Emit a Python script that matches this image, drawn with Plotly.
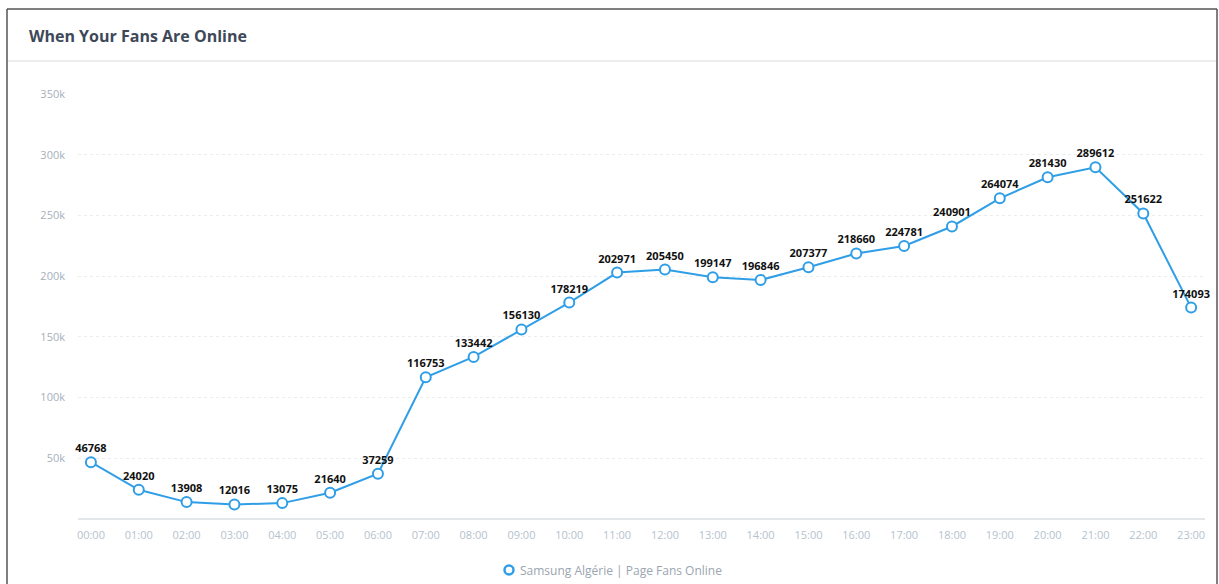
import plotly.graph_objects as go

hours = ["00:00","01:00","02:00","03:00","04:00","05:00","06:00","07:00","08:00","09:00","10:00","11:00",
         "12:00","13:00","14:00","15:00","16:00","17:00","18:00","19:00","20:00","21:00","22:00","23:00"]
fans = [46768, 24020, 13908, 12016, 13075, 21640, 37259, 116753, 133442, 156130, 178219, 202971,
        205450, 199147, 196846, 207377, 218660, 224781, 240901, 264074, 281430, 289612, 251622, 174093]
y_ticks = [50000, 100000, 150000, 200000, 250000, 300000, 350000]
y_tick_labels = ["50k", "100k", "150k", "200k", "250k", "300k", "350k"]
series_name = "Samsung Algérie | Page Fans Online"
title = "When Your Fans Are Online"

W, H = 1219, 584
ML, MR, MT, MB = 78, 14, 94, 65
PW = W - ML - MR
PH = H - MT - MB

def px_x(p):
    return (p - ML) / PW

def px_y(q):
    return (H - MB - q) / PH

xs = list(range(len(hours)))
BLUE = "#2f9ee6"

fig = go.Figure()
fig.add_trace(go.Scatter(
    x=xs, y=fans, mode="lines+markers+text", name=series_name, showlegend=False,
    text=[str(v) for v in fans], textposition="top center",
    textfont=dict(family="Open Sans", size=11, color="#111111", weight="bold"),
    line=dict(color=BLUE, width=2),
    marker=dict(symbol="circle", size=10, color="white", line=dict(color=BLUE, width=2)),
    cliponaxis=False,
))

shapes = [
    dict(type="line", xref="paper", yref="paper", x0=px_x(7), x1=px_x(1217), y0=px_y(9), y1=px_y(9),
         line=dict(color="#555555", width=1.5)),
    dict(type="line", xref="paper", yref="paper", x0=px_x(7), x1=px_x(7), y0=px_y(9), y1=px_y(590),
         line=dict(color="#555555", width=1.5)),
    dict(type="line", xref="paper", yref="paper", x0=px_x(1217), x1=px_x(1217), y0=px_y(9), y1=px_y(590),
         line=dict(color="#555555", width=1.5)),
    dict(type="line", xref="paper", yref="paper", x0=px_x(8), x1=px_x(1216), y0=px_y(61), y1=px_y(61),
         line=dict(color="#ececec", width=2)),
    # legend symbol
    dict(type="circle", xref="paper", yref="paper", x0=px_x(504.5), x1=px_x(513.5),
         y0=px_y(574.5), y1=px_y(565.5), fillcolor="white", line=dict(color=BLUE, width=2.5)),
]

fig.update_layout(
    width=W, height=H,
    margin=dict(l=ML, r=MR, t=MT, b=MB, autoexpand=False),
    paper_bgcolor="white", plot_bgcolor="white",
    font=dict(family="Open Sans", color="#aab5c0"),
    shapes=shapes,
    annotations=[
        dict(text=title, xref="paper", yref="paper", x=px_x(27), y=px_y(36),
             xanchor="left", yanchor="middle", showarrow=False,
             font=dict(family="Open Sans", size=16, color="#3d4858", weight="bold")),
        dict(text=series_name, xref="paper", yref="paper", x=px_x(518), y=px_y(570),
             xanchor="left", yanchor="middle", showarrow=False,
             font=dict(family="Open Sans", size=12, color="#9aa5b0")),
    ],
    xaxis=dict(range=[-0.27, 23.29], tickvals=xs, ticktext=hours, showgrid=False,
               zeroline=False, showline=False, ticks="", tickfont=dict(size=11, color="#b5c2ce"),
               ticklabelstandoff=8),
    yaxis=dict(range=[0, 350000], tickvals=y_ticks, ticktext=y_tick_labels, showgrid=True,
               gridcolor="#e9edf0", griddash="dot", gridwidth=1, zeroline=True, zerolinecolor="#e3e7ea",
               zerolinewidth=2, ticks="", tickfont=dict(size=11, color="#a5b0bb"), ticklabelstandoff=12),
    showlegend=False,
)

fig.write_html("out.html")
